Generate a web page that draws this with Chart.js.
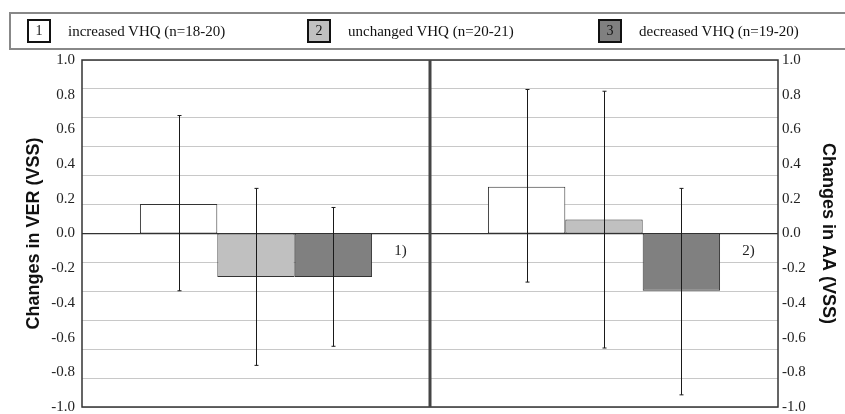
<!DOCTYPE html>
<html>
<head>
<meta charset="utf-8">
<script src="https://cdn.jsdelivr.net/npm/chart.js@4.4.1/dist/chart.umd.min.js"></script>
<style>
  body { margin: 0; background: #fff; }
  #wrap { position: relative; width: 845px; height: 414px; overflow: hidden; }
  #myChart { position: absolute; left: 0; top: 0; }
  #legend { position: absolute; left: 9px; top: 12px; width: 850px; height: 34px;
            border: 2px solid #888; border-right: none;
            font-family: 'Liberation Serif', serif; font-size: 15px; color: #111; }
  .item { position: absolute; top: 0; height: 34px; display: flex; align-items: center; white-space: nowrap; }
  .box { width: 20px; height: 20px; border: 2px solid #111; text-align: center;
         line-height: 20px; font-size: 14px; margin-right: 17px; }
</style>
</head>
<body>
<div id="wrap">
  <canvas id="myChart" width="845" height="414"></canvas>
  <div id="legend"></div>
</div>
<script>
// panels (one category per panel)
var categories = ['1)', '2)'];
var seriesNames = ['increased VHQ (n=18-20)', 'unchanged VHQ (n=20-21)', 'decreased VHQ (n=19-20)'];
var seriesColors = ['#ffffff', '#c0c0c0', '#808080'];

// mean changes
var increased = [0.17, 0.27];
var unchanged = [-0.25, 0.08];
var decreased = [-0.25, -0.33];

// error bar ends
var increasedHigh = [0.68, 0.83];
var increasedLow = [-0.33, -0.28];
var unchangedHigh = [0.26, 0.82];
var unchangedLow = [-0.76, -0.66];
var decreasedHigh = [0.15, 0.26];
var decreasedLow = [-0.65, -0.93];

var yMin = -1.0, yMax = 1.0, yStep = 0.2;
var gridSteps = 6; // grid lines per half axis

var highs = [increasedHigh, unchangedHigh, decreasedHigh];
var lows = [increasedLow, unchangedLow, decreasedLow];

document.addEventListener("DOMContentLoaded", function() {
    // legend
    var legendLeft = [16, 296, 587];
    var legend = document.getElementById('legend');
    seriesNames.forEach(function(name, i) {
        var item = document.createElement('div');
        item.className = 'item';
        item.style.left = legendLeft[i] + 'px';
        var box = document.createElement('div');
        box.className = 'box';
        box.style.background = seriesColors[i];
        box.textContent = String(i + 1);
        var label = document.createElement('span');
        label.textContent = name;
        item.appendChild(box);
        item.appendChild(label);
        legend.appendChild(item);
    });

    var frame = {
        id: 'frame',
        afterDraw: function(chart) {
            var a = chart.chartArea, ctx = chart.ctx;
            ctx.save();
            ctx.strokeStyle = '#333';
            ctx.lineWidth = 1.5;
            ctx.strokeRect(a.left, a.top, a.right - a.left, a.bottom - a.top);
            // panel separator
            var xs = chart.scales.x;
            var mid = (xs.getPixelForValue(0) + xs.getPixelForValue(1)) / 2;
            ctx.lineWidth = 3;
            ctx.strokeStyle = '#444';
            ctx.beginPath();
            ctx.moveTo(mid, a.top);
            ctx.lineTo(mid, a.bottom);
            ctx.stroke();
            ctx.restore();
        }
    };

    var errorBars = {
        id: 'errorBars',
        afterDatasetsDraw: function(chart) {
            var ctx = chart.ctx, ys = chart.scales.y;
            ctx.save();
            ctx.strokeStyle = '#1a1a1a';
            ctx.lineWidth = 1;
            chart.data.datasets.forEach(function(ds, d) {
                chart.getDatasetMeta(d).data.forEach(function(el, i) {
                    var x = Math.round(el.x) + 0.5;
                    var hi = ys.getPixelForValue(highs[d][i]);
                    var lo = ys.getPixelForValue(lows[d][i]);
                    ctx.beginPath();
                    ctx.moveTo(x, hi); ctx.lineTo(x, lo);
                    ctx.moveTo(x - 2, hi); ctx.lineTo(x + 2, hi);
                    ctx.moveTo(x - 2, lo); ctx.lineTo(x + 2, lo);
                    ctx.stroke();
                });
            });
            ctx.restore();
        }
    };

    var panelLabels = {
        id: 'panelLabels',
        afterDatasetsDraw: function(chart) {
            var ctx = chart.ctx, xs = chart.scales.x, ys = chart.scales.y;
            var catW = (chart.chartArea.right - chart.chartArea.left) / categories.length;
            ctx.save();
            ctx.fillStyle = '#222';
            ctx.font = '15px "Liberation Serif"';
            ctx.textAlign = 'center';
            ctx.textBaseline = 'middle';
            categories.forEach(function(c, i) {
                ctx.fillText(c, xs.getPixelForValue(i) + catW * 0.415, ys.getPixelForValue(-0.1));
            });
            ctx.restore();
        }
    };

    var tickFont = { family: 'Liberation Serif', size: 15 };
    var titleFont = { family: 'Liberation Sans', size: 18, weight: 'bold' };

    function fixAxis(width) {
        return function(s) {
            s.width = width;
            s.paddingTop = 0;
            s.paddingBottom = 0;
        };
    }

    var ctx = document.getElementById('myChart').getContext('2d');
    var myChart = new Chart(ctx, {
        type: 'bar',
        data: {
            labels: categories,
            datasets: [
                { label: seriesNames[0], data: increased, backgroundColor: seriesColors[0] },
                { label: seriesNames[1], data: unchanged, backgroundColor: seriesColors[1] },
                { label: seriesNames[2], data: decreased, backgroundColor: seriesColors[2] }
            ].map(function(ds) {
                ds.borderColor = '#333';
                ds.borderWidth = 1;
                ds.borderSkipped = false;
                ds.categoryPercentage = 0.667;
                ds.barPercentage = 1.0;
                return ds;
            })
        },
        options: {
            responsive: false,
            animation: false,
            layout: { padding: { top: 60, bottom: 7, left: 0, right: 0 } },
            plugins: { legend: { display: false }, tooltip: { enabled: false } },
            scales: {
                x: {
                    grid: { display: false },
                    border: { display: false },
                    ticks: { display: false },
                    afterFit: function(s) { s.height = 0; }
                },
                y: {
                    position: 'left',
                    min: yMin, max: yMax,
                    ticks: {
                        stepSize: yStep, font: tickFont, color: '#222', padding: 7,
                        callback: function(v) { return v.toFixed(1); }
                    },
                    grid: { display: false, drawTicks: false },
                    border: { display: false },
                    title: { display: true, text: 'Changes in VER (VSS)', font: titleFont, color: '#111', padding: { top: 23, bottom: 0 } },
                    afterFit: fixAxis(82)
                },
                yg: {
                    position: 'left',
                    min: -gridSteps, max: gridSteps,
                    ticks: { display: false, stepSize: 1 },
                    grid: {
                        drawTicks: false,
                        color: function(c) { return c.tick.value === 0 ? '#333' : '#c8c8c8'; },
                        lineWidth: function(c) { return c.tick.value === 0 ? 1.2 : 1; }
                    },
                    border: { display: false },
                    afterFit: fixAxis(0)
                },
                y2: {
                    position: 'right',
                    min: yMin, max: yMax,
                    ticks: {
                        stepSize: yStep, font: tickFont, color: '#222', padding: 4,
                        callback: function(v) { return v.toFixed(1); }
                    },
                    grid: { display: false, drawTicks: false },
                    border: { display: false },
                    title: { display: true, text: 'Changes in AA (VSS)', font: titleFont, color: '#111', padding: { top: 6, bottom: 0 } },
                    afterFit: fixAxis(67)
                }
            }
        },
        plugins: [frame, errorBars, panelLabels]
    });
});
</script>
</body>
</html>
